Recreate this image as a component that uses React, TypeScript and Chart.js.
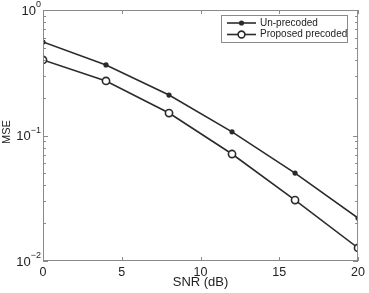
import React, { useEffect, useRef } from "react";
import { Chart, registerables } from "chart.js";

Chart.register(...registerables);

const snr = [0, 4, 8, 12, 16, 20];
const unprecoded = [0.556, 0.365, 0.21, 0.107, 0.0502, 0.022];
const proposed = [0.4, 0.272, 0.151, 0.0712, 0.0306, 0.0127];
const seriesNames = ["Un-precoded", "Proposed precoded"];
const xTicks = [0, 5, 10, 15, 20];
const yDecades = [-2, -1, 0];

const FONT = "'Liberation Sans', Arial, sans-serif";
const LINE = "#2b2b2b";
const FRAME = "#8a8a8a";

const decor = {
  id: "decor",
  afterDraw(chart: any) {
    const ctx = chart.ctx;
    const { left, right, top, bottom } = chart.chartArea;
    const xs = chart.scales.x;
    const ys = chart.scales.y;
    ctx.save();
    // frame
    ctx.strokeStyle = FRAME;
    ctx.lineWidth = 1;
    ctx.strokeRect(left + 0.5, top + 0.5, right - left - 1, bottom - top - 1);
    // x ticks
    ctx.beginPath();
    for (const v of xTicks) {
      const px = Math.round(xs.getPixelForValue(v)) + 0.5;
      ctx.moveTo(px, bottom);
      ctx.lineTo(px, bottom - 4);
      ctx.moveTo(px, top);
      ctx.lineTo(px, top + 4);
    }
    // y ticks
    for (const d of yDecades) {
      for (let m = 1; m <= 9; m++) {
        const v = m * Math.pow(10, d);
        if (v > 1.0001) continue;
        const py = Math.round(ys.getPixelForValue(v)) + 0.5;
        const len = m === 1 ? 5 : 3;
        ctx.moveTo(left, py);
        ctx.lineTo(left + len, py);
        ctx.moveTo(right, py);
        ctx.lineTo(right - len, py);
      }
    }
    ctx.stroke();
    // y tick labels 10^d
    ctx.fillStyle = "#222";
    for (const d of yDecades) {
      const py = ys.getPixelForValue(Math.pow(10, d));
      const exp = d < 0 ? "\u2212" + Math.abs(d) : String(d);
      ctx.font = "9px " + FONT;
      const ew = ctx.measureText(exp).width;
      ctx.textAlign = "right";
      ctx.textBaseline = "middle";
      ctx.fillText(exp, 41, py - 5);
      ctx.font = "13px " + FONT;
      ctx.fillText("10", 41 - ew, py + 1);
    }
    // axis titles
    ctx.font = "13px " + FONT;
    ctx.textAlign = "center";
    ctx.textBaseline = "middle";
    ctx.fillText("SNR (dB)", (left + right) / 2, 282);
    ctx.save();
    ctx.font = "11px " + FONT;
    ctx.translate(7, 132);
    ctx.rotate(-Math.PI / 2);
    ctx.fillText("MSE", 0, 0);
    ctx.restore();
    // legend
    const bx = 221, by = 15, bw = 126, bh = 27;
    ctx.fillStyle = "#fff";
    ctx.fillRect(bx, by, bw, bh);
    ctx.strokeStyle = FRAME;
    ctx.lineWidth = 1;
    ctx.strokeRect(bx + 0.5, by + 0.5, bw, bh);
    const rows = [23, 34.5];
    rows.forEach((ry, i) => {
      ctx.strokeStyle = LINE;
      ctx.lineWidth = 1.6;
      ctx.beginPath();
      ctx.moveTo(227, ry);
      ctx.lineTo(256, ry);
      ctx.stroke();
      ctx.beginPath();
      if (i === 0) {
        ctx.fillStyle = LINE;
        ctx.arc(241.5, ry, 2.6, 0, Math.PI * 2);
        ctx.fill();
      } else {
        ctx.fillStyle = "#fff";
        ctx.arc(241.5, ry, 3.4, 0, Math.PI * 2);
        ctx.fill();
        ctx.stroke();
      }
      ctx.fillStyle = "#222";
      ctx.font = "10px " + FONT;
      ctx.textAlign = "left";
      ctx.textBaseline = "middle";
      ctx.fillText(seriesNames[i], 260, ry);
    });
    ctx.restore();
  },
};

export default function App() {
  const ref = useRef<HTMLCanvasElement | null>(null);
  useEffect(() => {
    document.body.style.margin = "0";
    const chart = new Chart(ref.current as HTMLCanvasElement, {
      type: "line",
      data: {
        datasets: [
          {
            label: seriesNames[0],
            data: snr.map((x, i) => ({ x, y: unprecoded[i] })),
            borderColor: LINE,
            backgroundColor: LINE,
            borderWidth: 1.6,
            pointRadius: 2.6,
            pointBorderWidth: 0,
            pointBackgroundColor: LINE,
          },
          {
            label: seriesNames[1],
            data: snr.map((x, i) => ({ x, y: proposed[i] })),
            borderColor: LINE,
            backgroundColor: "#fff",
            borderWidth: 1.6,
            pointRadius: 3.6,
            pointBorderWidth: 1.6,
            pointBackgroundColor: "#fff",
            pointBorderColor: LINE,
          },
        ],
      },
      options: {
        responsive: false,
        animation: false,
        layout: { padding: { left: 0, top: 10, right: 8, bottom: 0 } },
        plugins: { legend: { display: false }, tooltip: { enabled: false } },
        scales: {
          x: {
            type: "linear",
            min: 0,
            max: 20,
            grid: { display: false, drawTicks: false },
            border: { display: false },
            ticks: {
              stepSize: 5,
              padding: 4,
              color: "#222",
              font: { family: FONT, size: 12.5 },
            },
            afterFit: (s: any) => {
              s.height = 32;
            },
          },
          y: {
            type: "logarithmic",
            min: 0.01,
            max: 1,
            grid: { display: false, drawTicks: false },
            border: { display: false },
            ticks: { display: false },
            afterFit: (s: any) => {
              s.width = 43;
            },
          },
        },
      },
      plugins: [decor],
    } as any);
    return () => chart.destroy();
  }, []);
  return <canvas ref={ref} width={369} height={293} style={{ display: "block" }} />;
}
